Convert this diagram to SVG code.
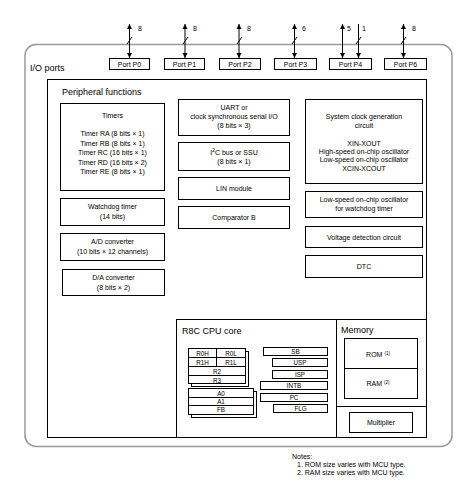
<svg xmlns="http://www.w3.org/2000/svg" width="475" height="498" viewBox="0 0 475 498">
<defs>
<marker id="ah" viewBox="0 0 10 10" refX="10" refY="5" markerWidth="5" markerHeight="8" orient="auto-start-reverse" markerUnits="userSpaceOnUse"><path d="M0,0 L10,5 L0,10 z" fill="#000"/></marker>
</defs>
<style>
text{font-family:"Liberation Sans",Arial,sans-serif;fill:#000}
.b{fill:#fff;stroke:#000;stroke-width:1}
.t{font-size:7px;text-anchor:middle}
.s{font-size:6.3px;text-anchor:middle}
.h{font-size:9px}
.w{stroke:#000;stroke-width:1;fill:none}
</style>
<rect width="475" height="498" fill="#fff"/>
<rect id="io" x="25" y="44.5" width="427" height="402" rx="11" fill="none" stroke="#999" stroke-width="1.5"/>
<text class="h" x="30" y="71">I/O ports</text>
<g id="ports">
<g id="p0"><rect class="b" x="109.5" y="58.5" width="40" height="11"/><text class="t" x="129.5" y="67">Port P0</text></g>
<g id="p1"><rect class="b" x="164.5" y="58.5" width="40" height="11"/><text class="t" x="184.5" y="67">Port P1</text></g>
<g id="p2"><rect class="b" x="219.5" y="58.5" width="41" height="11"/><text class="t" x="240" y="67">Port P2</text></g>
<g id="p3"><rect class="b" x="274.5" y="58.5" width="42" height="11"/><text class="t" x="295.5" y="67">Port P3</text></g>
<g id="p4"><rect class="b" x="329.5" y="58.5" width="42" height="11"/><text class="t" x="350.5" y="67">Port P4</text></g>
<g id="p6"><rect class="b" x="384.5" y="58.5" width="42" height="11"/><text class="t" x="405.5" y="67">Port P6</text></g>
</g>
<g id="connectors" stroke="#000" stroke-width="1">
<line x1="129.5" y1="24" x2="129.5" y2="58" marker-start="url(#ah)" marker-end="url(#ah)"/>
<line x1="185" y1="24" x2="185" y2="58" marker-start="url(#ah)" marker-end="url(#ah)"/>
<line x1="239" y1="24" x2="239" y2="58" marker-start="url(#ah)" marker-end="url(#ah)"/>
<line x1="294.5" y1="24" x2="294.5" y2="58" marker-start="url(#ah)" marker-end="url(#ah)"/>
<line x1="342.5" y1="24" x2="342.5" y2="58" marker-start="url(#ah)" marker-end="url(#ah)"/>
<line x1="358.5" y1="24" x2="358.5" y2="58" marker-end="url(#ah)"/>
<line x1="403.5" y1="24" x2="403.5" y2="58" marker-start="url(#ah)" marker-end="url(#ah)"/>
<path d="M127 44 L132 37 M183 44 L188 37 M237 44 L242 37 M292 44 L297 37 M356 44 L361 37 M401 44 L406 37" fill="none"/>
</g>
<g id="bus-labels" font-size="7">
<text x="138" y="31">8</text><text x="193" y="31">8</text><text x="247" y="31">8</text>
<text x="302" y="31">6</text><text x="347" y="31">5</text><text x="362" y="31">1</text><text x="412" y="31">8</text>
</g>
<g id="peripheral">
<rect class="b" x="47.5" y="79.5" width="379" height="358" fill="none"/>
<text class="h" x="62" y="95">Peripheral functions</text>
</g>
<g id="timers"><rect class="b" x="60.5" y="103.5" width="104" height="87"/>
<text class="t" x="112.5" y="118">Timers</text>
<text class="t" x="112.5" y="136">Timer RA (8 bits × 1)</text>
<text class="t" x="112.5" y="145.5">Timer RB (8 bits × 1)</text>
<text class="t" x="112.5" y="155">Timer RC (16 bits × 1)</text>
<text class="t" x="112.5" y="164.5">Timer RD (16 bits × 2)</text>
<text class="t" x="112.5" y="174">Timer RE (8 bits × 1)</text></g>
<g id="wdt"><rect class="b" x="60.5" y="198.5" width="104" height="27"/>
<text class="t" x="112.5" y="209">Watchdog timer</text><text class="t" x="112.5" y="219">(14 bits)</text></g>
<g id="adc"><rect class="b" x="60.5" y="233.5" width="104" height="27"/>
<text class="t" x="112.5" y="244">A/D converter</text><text class="t" x="112.5" y="254">(10 bits × 12 channels)</text></g>
<g id="dac"><rect class="b" x="62.5" y="269.5" width="102" height="26"/>
<text class="t" x="113.5" y="280">D/A converter</text><text class="t" x="113.5" y="290">(8 bits × 2)</text></g>
<g id="uart"><rect class="b" x="178.5" y="99.5" width="111" height="36"/>
<text class="t" x="234" y="110">UART or</text><text class="t" x="234" y="119">clock synchronous serial I/O</text><text class="t" x="234" y="128">(8 bits × 3)</text></g>
<g id="i2c"><rect class="b" x="178.5" y="142.5" width="111" height="28"/>
<text class="t" x="234" y="155">I<tspan font-size="5" dy="-3">2</tspan><tspan dy="3">C bus or SSU</tspan></text><text class="t" x="234" y="164">(8 bits × 1)</text></g>
<g id="lin"><rect class="b" x="178.5" y="177.5" width="111" height="22"/>
<text class="t" x="234" y="191">LIN module</text></g>
<g id="comp"><rect class="b" x="178.5" y="206.5" width="111" height="22"/>
<text class="t" x="234" y="220">Comparator B</text></g>
<g id="sysclk"><rect class="b" x="305.5" y="99.5" width="117" height="84"/>
<text class="t" x="364" y="119">System clock generation</text><text class="t" x="364" y="128">circuit</text>
<text class="t" x="364" y="146">XIN-XOUT</text><text class="t" x="364" y="154">High-speed on-chip oscillator</text>
<text class="t" x="364" y="162">Low-speed on-chip oscillator</text><text class="t" x="364" y="171">XCIN-XCOUT</text></g>
<g id="losc"><rect class="b" x="305.5" y="191.5" width="117" height="26"/>
<text class="t" x="364" y="202">Low-speed on-chip oscillator</text><text class="t" x="364" y="211">for watchdog timer</text></g>
<g id="vdet"><rect class="b" x="305.5" y="226.5" width="117" height="21"/>
<text class="t" x="364" y="240">Voltage detection circuit</text></g>
<g id="dtc"><rect class="b" x="305.5" y="255.5" width="117" height="22"/>
<text class="t" x="364" y="269">DTC</text></g>
<g id="cpu"><rect class="b" x="176.5" y="319.5" width="160" height="118"/>
<text class="h" x="182" y="334">R8C CPU core</text>
<rect class="b" x="191.5" y="351.5" width="57" height="35"/>
<rect class="b" x="188.5" y="348.5" width="57" height="35"/>
<path class="w" d="M188.5 357.5 H245.5 M188.5 366.5 H245.5 M188.5 375.5 H245.5 M216.5 348.5 V366.5"/>
<text class="s" x="202.5" y="355.5">R0H</text><text class="s" x="231" y="355.5">R0L</text>
<text class="s" x="202.5" y="364.5">R1H</text><text class="s" x="231" y="364.5">R1L</text>
<text class="s" x="217" y="373.5">R2</text><text class="s" x="217" y="382.5">R3</text>
<rect class="b" x="191.5" y="391.5" width="65" height="26"/>
<rect class="b" x="188.5" y="388.5" width="65" height="26"/>
<path class="w" d="M188.5 397.5 H253.5 M188.5 405.5 H253.5"/>
<text class="s" x="221" y="395.5">A0</text><text class="s" x="221" y="403.5">A1</text><text class="s" x="221" y="412">FB</text>
<rect class="b" x="263.5" y="347.5" width="64" height="8"/><text class="s" x="295.5" y="354">SB</text>
<rect class="b" x="272.5" y="358.5" width="55" height="8"/><text class="s" x="300" y="365">USP</text>
<rect class="b" x="272.5" y="370.5" width="55" height="8"/><text class="s" x="300" y="377">ISP</text>
<rect class="b" x="260.5" y="381.5" width="67" height="8"/><text class="s" x="294" y="388">INTB</text>
<rect class="b" x="260.5" y="393.5" width="67" height="8"/><text class="s" x="294" y="400">PC</text>
<rect class="b" x="273.5" y="404.5" width="54" height="8"/><text class="s" x="300.5" y="411">FLG</text>
</g>
<g id="memory"><rect class="b" x="336.5" y="319.5" width="90" height="87"/>
<text class="h" x="341" y="333">Memory</text>
<rect class="b" x="344.5" y="338.5" width="73" height="60"/>
<line class="w" x1="344.5" y1="368.5" x2="417.5" y2="368.5"/>
<text class="t" x="378" y="357">ROM <tspan font-size="4.5" dy="-2">(1)</tspan></text>
<text class="t" x="378" y="386">RAM <tspan font-size="4.5" dy="-2">(2)</tspan></text></g>
<g id="mult"><rect class="b" x="349.5" y="412.5" width="63" height="20"/>
<text class="t" x="381" y="425">Multiplier</text></g>
<g id="notes" font-size="7">
<text x="292" y="459">Notes:</text>
<text x="297" y="467">1. ROM size varies with MCU type.</text>
<text x="297" y="475">2. RAM size varies with MCU type.</text>
</g>
</svg>
